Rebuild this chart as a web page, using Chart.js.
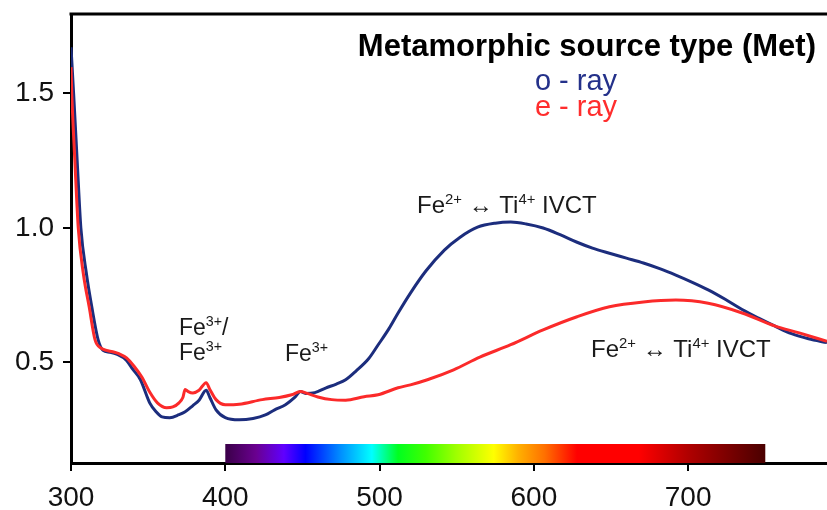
<!DOCTYPE html>
<html><head><meta charset="utf-8">
<script src="https://cdn.jsdelivr.net/npm/chart.js@4/dist/chart.umd.min.js"></script>
<style>html,body{margin:0;padding:0;background:#fff;}canvas{display:block;}</style>
</head><body>
<canvas id="c" width="827" height="510"></canvas>
<script>
// ---- data ----
const oRayWavelength = [300,301.7,304,306.4,310,313.5,317.6,320.8,325,330,336,340,345,351,355,359,364,370,374,379,383,387.6,390,394,400,409,418,426,432,439,445,448.7,452,458,465,472,478,485,493,499,506,512,520,530,542,552,563.5,575,585,595,606,617,628,638,649,660,671,682,692,702,713,724,735,746,756,767,778,790];
const oRayAbs = [1.672,1.50,1.25,1.00,0.83,0.706,0.584,0.545,0.538,0.530,0.508,0.475,0.436,0.35,0.318,0.298,0.295,0.306,0.317,0.34,0.36,0.397,0.37,0.324,0.295,0.287,0.292,0.305,0.324,0.343,0.37,0.392,0.385,0.388,0.405,0.42,0.436,0.47,0.515,0.565,0.625,0.684,0.758,0.84,0.918,0.965,1.003,1.018,1.022,1.015,1.0,0.975,0.947,0.925,0.906,0.888,0.87,0.848,0.825,0.80,0.77,0.735,0.697,0.664,0.636,0.607,0.588,0.574];
const eRayWavelength = [300,300.5,302.5,304.7,308,311.8,315.6,319.5,323,327,331,336,341,346,351,356,362,366,370,372.5,374,376,379,383,387.6,390,394,400,409,424,435,443,448.7,453,460,469,478,490,499,512,520,531,548,565,585,606,628,649,671,692,713,735,756,772,790];
const eRayAbs = [1.598,1.50,1.25,1.00,0.83,0.706,0.584,0.553,0.545,0.540,0.533,0.517,0.485,0.445,0.39,0.35,0.332,0.335,0.35,0.37,0.40,0.392,0.387,0.397,0.425,0.40,0.362,0.343,0.345,0.362,0.37,0.38,0.392,0.385,0.372,0.362,0.36,0.373,0.38,0.406,0.417,0.436,0.473,0.52,0.566,0.621,0.67,0.707,0.725,0.732,0.72,0.684,0.636,0.61,0.579];
const xTickValues = [300,400,500,600,700];
const yTickValues = [0.5,1.0,1.5];
const seriesNames = ['o - ray','e - ray'];
const chartTitle = 'Metamorphic source type (Met)';
// visible spectrum strip (wavelength, colour)
const spectrumStops = [[400,'#3a0048'],[420,'#6a0090'],[438,'#6000ff'],[452,'#0000ff'],[475,'#0090ff'],[495,'#00ffff'],[512,'#00ff20'],[530,'#40ff00'],[550,'#a0ff00'],[574,'#ffff00'],[590,'#ffb000'],[607,'#ff7000'],[628,'#ff0000'],[668,'#ff0000'],[700,'#b00000'],[750,'#4a0000']];

const BLUE = '#1c2d7d', RED = '#fb2a2a';
const FONT = '"Liberation Sans", Arial, Helvetica, sans-serif';

function pts(xs, ys){ return xs.map((x,i)=>({x:x, y:ys[i]})); }

function drawRich(ctx, segs, x, y, size, color){
  let cx = x;
  ctx.fillStyle = color;
  ctx.textBaseline = 'alphabetic';
  ctx.textAlign = 'left';
  for (const [t, sup] of segs){
    const s = sup ? size*0.62 : size;
    ctx.font = s + 'px ' + FONT;
    ctx.fillText(t, cx, sup ? y - size*0.38 : y);
    cx += ctx.measureText(t).width;
  }
}

const decor = {
  id: 'decor',
  beforeDatasetsDraw(chart){
    const ctx = chart.ctx, xs = chart.scales.x, ca = chart.chartArea;
    const x0 = xs.getPixelForValue(spectrumStops[0][0]);
    const x1 = xs.getPixelForValue(spectrumStops[spectrumStops.length-1][0]);
    const g = ctx.createLinearGradient(x0,0,x1,0);
    for (const [w,c] of spectrumStops) g.addColorStop((xs.getPixelForValue(w)-x0)/(x1-x0), c);
    ctx.save();
    ctx.fillStyle = g;
    ctx.fillRect(x0, ca.bottom-19, x1-x0, 19);
    ctx.restore();
  },
  afterDraw(chart){
    const ctx = chart.ctx, ca = chart.chartArea;
    ctx.save();
    ctx.strokeStyle = '#000'; ctx.lineWidth = 3;
    ctx.beginPath(); ctx.moveTo(ca.left-1.5, ca.top); ctx.lineTo(ca.right, ca.top); ctx.stroke();
    // title and series labels
    ctx.fillStyle = '#000';
    ctx.font = 'bold 31px ' + FONT;
    ctx.textAlign = 'right'; ctx.textBaseline = 'alphabetic';
    ctx.fillText(chartTitle, 816, 56);
    ctx.font = '29px ' + FONT; ctx.textAlign = 'center';
    ctx.fillStyle = '#24318a'; ctx.fillText(seriesNames[0], 576, 90);
    ctx.fillStyle = '#ff2d2d'; ctx.fillText(seriesNames[1], 576, 116);
    // band annotations
    const S = 23, col = '#1a1a1a';
    drawRich(ctx, [['Fe',0],['3+',1],['/',0]], 179, 335, S, col);
    drawRich(ctx, [['Fe',0],['3+',1]], 179, 360, S, col);
    drawRich(ctx, [['Fe',0],['3+',1]], 285, 361, S, col);
    drawRich(ctx, [['Fe',0],['2+',1],[' \u2194 ',0],['Ti',0],['4+',1],[' IVCT',0]], 417, 213, 24, col);
    drawRich(ctx, [['Fe',0],['2+',1],[' \u2194 ',0],['Ti',0],['4+',1],[' IVCT',0]], 591, 357, 24, col);
    ctx.restore();
  }
};

Chart.defaults.font.family = FONT;
new Chart(document.getElementById('c'), {
  type: 'line',
  data: {
    datasets: [
      { label: seriesNames[1], data: pts(eRayWavelength, eRayAbs), borderColor: RED, borderWidth: 3, pointRadius: 0, cubicInterpolationMode: 'monotone', fill: false },
      { label: seriesNames[0], data: pts(oRayWavelength, oRayAbs), borderColor: BLUE, borderWidth: 3, pointRadius: 0, cubicInterpolationMode: 'monotone', fill: false }
    ]
  },
  options: {
    responsive: false, animation: false,
    layout: { padding: { top: 14, right: 0, left: 0, bottom: 0 } },
    plugins: { legend: { display: false }, tooltip: { enabled: false } },
    scales: {
      x: {
        type: 'linear', min: 300, max: 790,
        afterBuildTicks: s => { s.ticks = xTickValues.map(v => ({value: v})); },
        afterFit: s => { s.height = 47; s.paddingLeft = 0; s.paddingRight = 0; },
        ticks: { font: { size: 28 }, color: '#111', padding: 10, maxRotation: 0, callback: v => String(v) },
        grid: { drawOnChartArea: false, drawTicks: true, tickLength: 8, color: '#000', lineWidth: 2 },
        border: { display: true, color: '#000', width: 3 }
      },
      y: {
        type: 'linear', min: 0.1264, max: 1.7955,
        afterBuildTicks: s => { s.ticks = yTickValues.map(v => ({value: v})); },
        afterFit: s => { s.width = 71; s.paddingTop = 0; s.paddingBottom = 0; },
        ticks: { font: { size: 28 }, color: '#111', padding: 9, callback: v => Number(v).toFixed(1) },
        grid: { drawOnChartArea: false, drawTicks: true, tickLength: 8, color: '#000', lineWidth: 2 },
        border: { display: true, color: '#000', width: 3 }
      }
    }
  },
  plugins: [decor]
});
</script>
</body></html>
